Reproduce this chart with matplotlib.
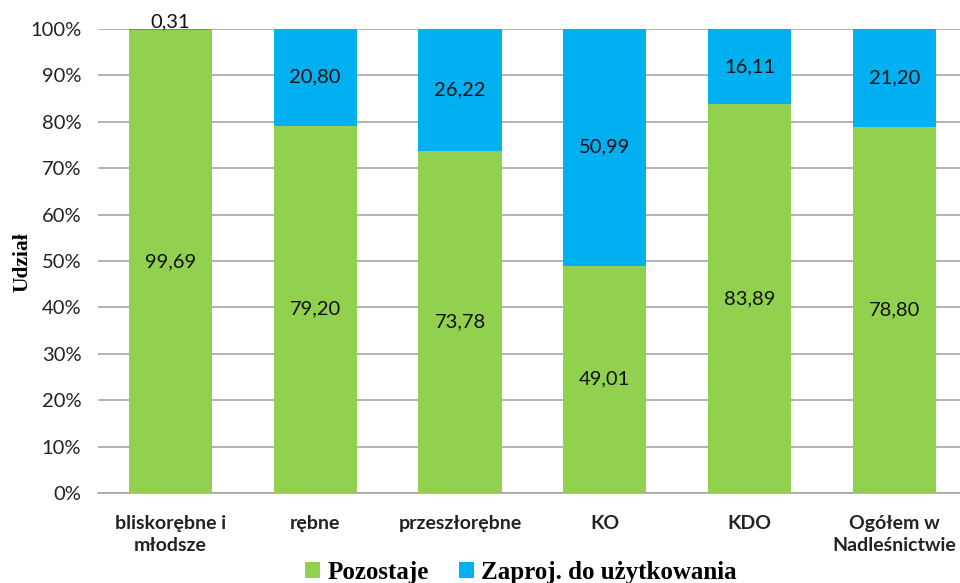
import numpy as np
import matplotlib.pyplot as plt
from matplotlib.ticker import FuncFormatter

categories = ['bliskorębne i\nmłodsze', 'rębne', 'przeszłorębne', 'KO', 'KDO', 'Ogółem w\nNadleśnictwie']
pozostaje = [99.69, 79.20, 73.78, 49.01, 83.89, 78.80]
zaproj = [0.31, 20.80, 26.22, 50.99, 16.11, 21.20]

green = '#92D050'
blue = '#00B0F0'
sans = ['Lato', 'DejaVu Sans']
serif = ['Liberation Serif', 'DejaVu Serif']

fig = plt.figure(figsize=(9.6, 5.83), dpi=100)
ax = fig.add_axes([98/960, 1-493/583, 1-98/960, (493-29)/583])

x = np.arange(len(categories))
w = 0.574
ax.bar(x, pozostaje, w, color=green, zorder=3, label='Pozostaje')
ax.bar(x, zaproj, w, bottom=pozostaje, color=blue, zorder=3, label='Zaproj. do użytkowania')

fmt = lambda v: '{:.2f}'.format(v).replace('.', ',')
for i in range(len(categories)):
    ax.text(x[i], pozostaje[i]/2, fmt(pozostaje[i]), ha='center', va='center',
            fontsize=14.5, family=sans, color='#111111', zorder=4)
    if zaproj[i] < 3:
        # thin segment: label sits just above the bar
        ax.text(x[i], 99.6, fmt(zaproj[i]), ha='center', va='bottom',
                fontsize=14.5, family=sans, color='#111111', zorder=4)
    else:
        ax.text(x[i], pozostaje[i] + zaproj[i]/2, fmt(zaproj[i]), ha='center', va='center',
                fontsize=14.5, family=sans, color='#111111', zorder=4)

ax.set_xlim(-0.5, 5.453)
ax.set_ylim(0, 100)
ax.set_yticks(np.arange(0, 101, 10))
ax.yaxis.set_major_formatter(FuncFormatter(lambda v, p: '{:.0f}%'.format(v)))
ax.yaxis.grid(True, color='#A6A6A6', linewidth=1.2, zorder=0)
ax.set_xticks(x)
ax.set_xticklabels(categories, fontsize=14, fontweight='bold', family=sans, linespacing=1.35)
for lab in ax.get_yticklabels():
    lab.set_family(sans)
    lab.set_fontsize(14.5)
ax.tick_params(length=0, pad=12, colors='#222222')
ax.tick_params(axis='x', pad=16)
for s in ['top', 'right', 'left']:
    ax.spines[s].set_visible(False)
ax.spines['bottom'].set_color('#A6A6A6')
ax.spines['bottom'].set_linewidth(1.2)

fig.text(0.023, 1-262/583, 'Udział', rotation=90, ha='center', va='center',
         fontsize=15.5, fontweight='bold', family=serif)

leg = fig.legend(loc='center', bbox_to_anchor=(521/960, 1-572/583), ncol=2, frameon=False,
                 prop={'family': serif, 'weight': 'bold', 'size': 18},
                 handlelength=0.6, handleheight=0.6, handletextpad=0.3, columnspacing=1.2,
                 borderpad=0)

fig.savefig('out.png', dpi=100)
